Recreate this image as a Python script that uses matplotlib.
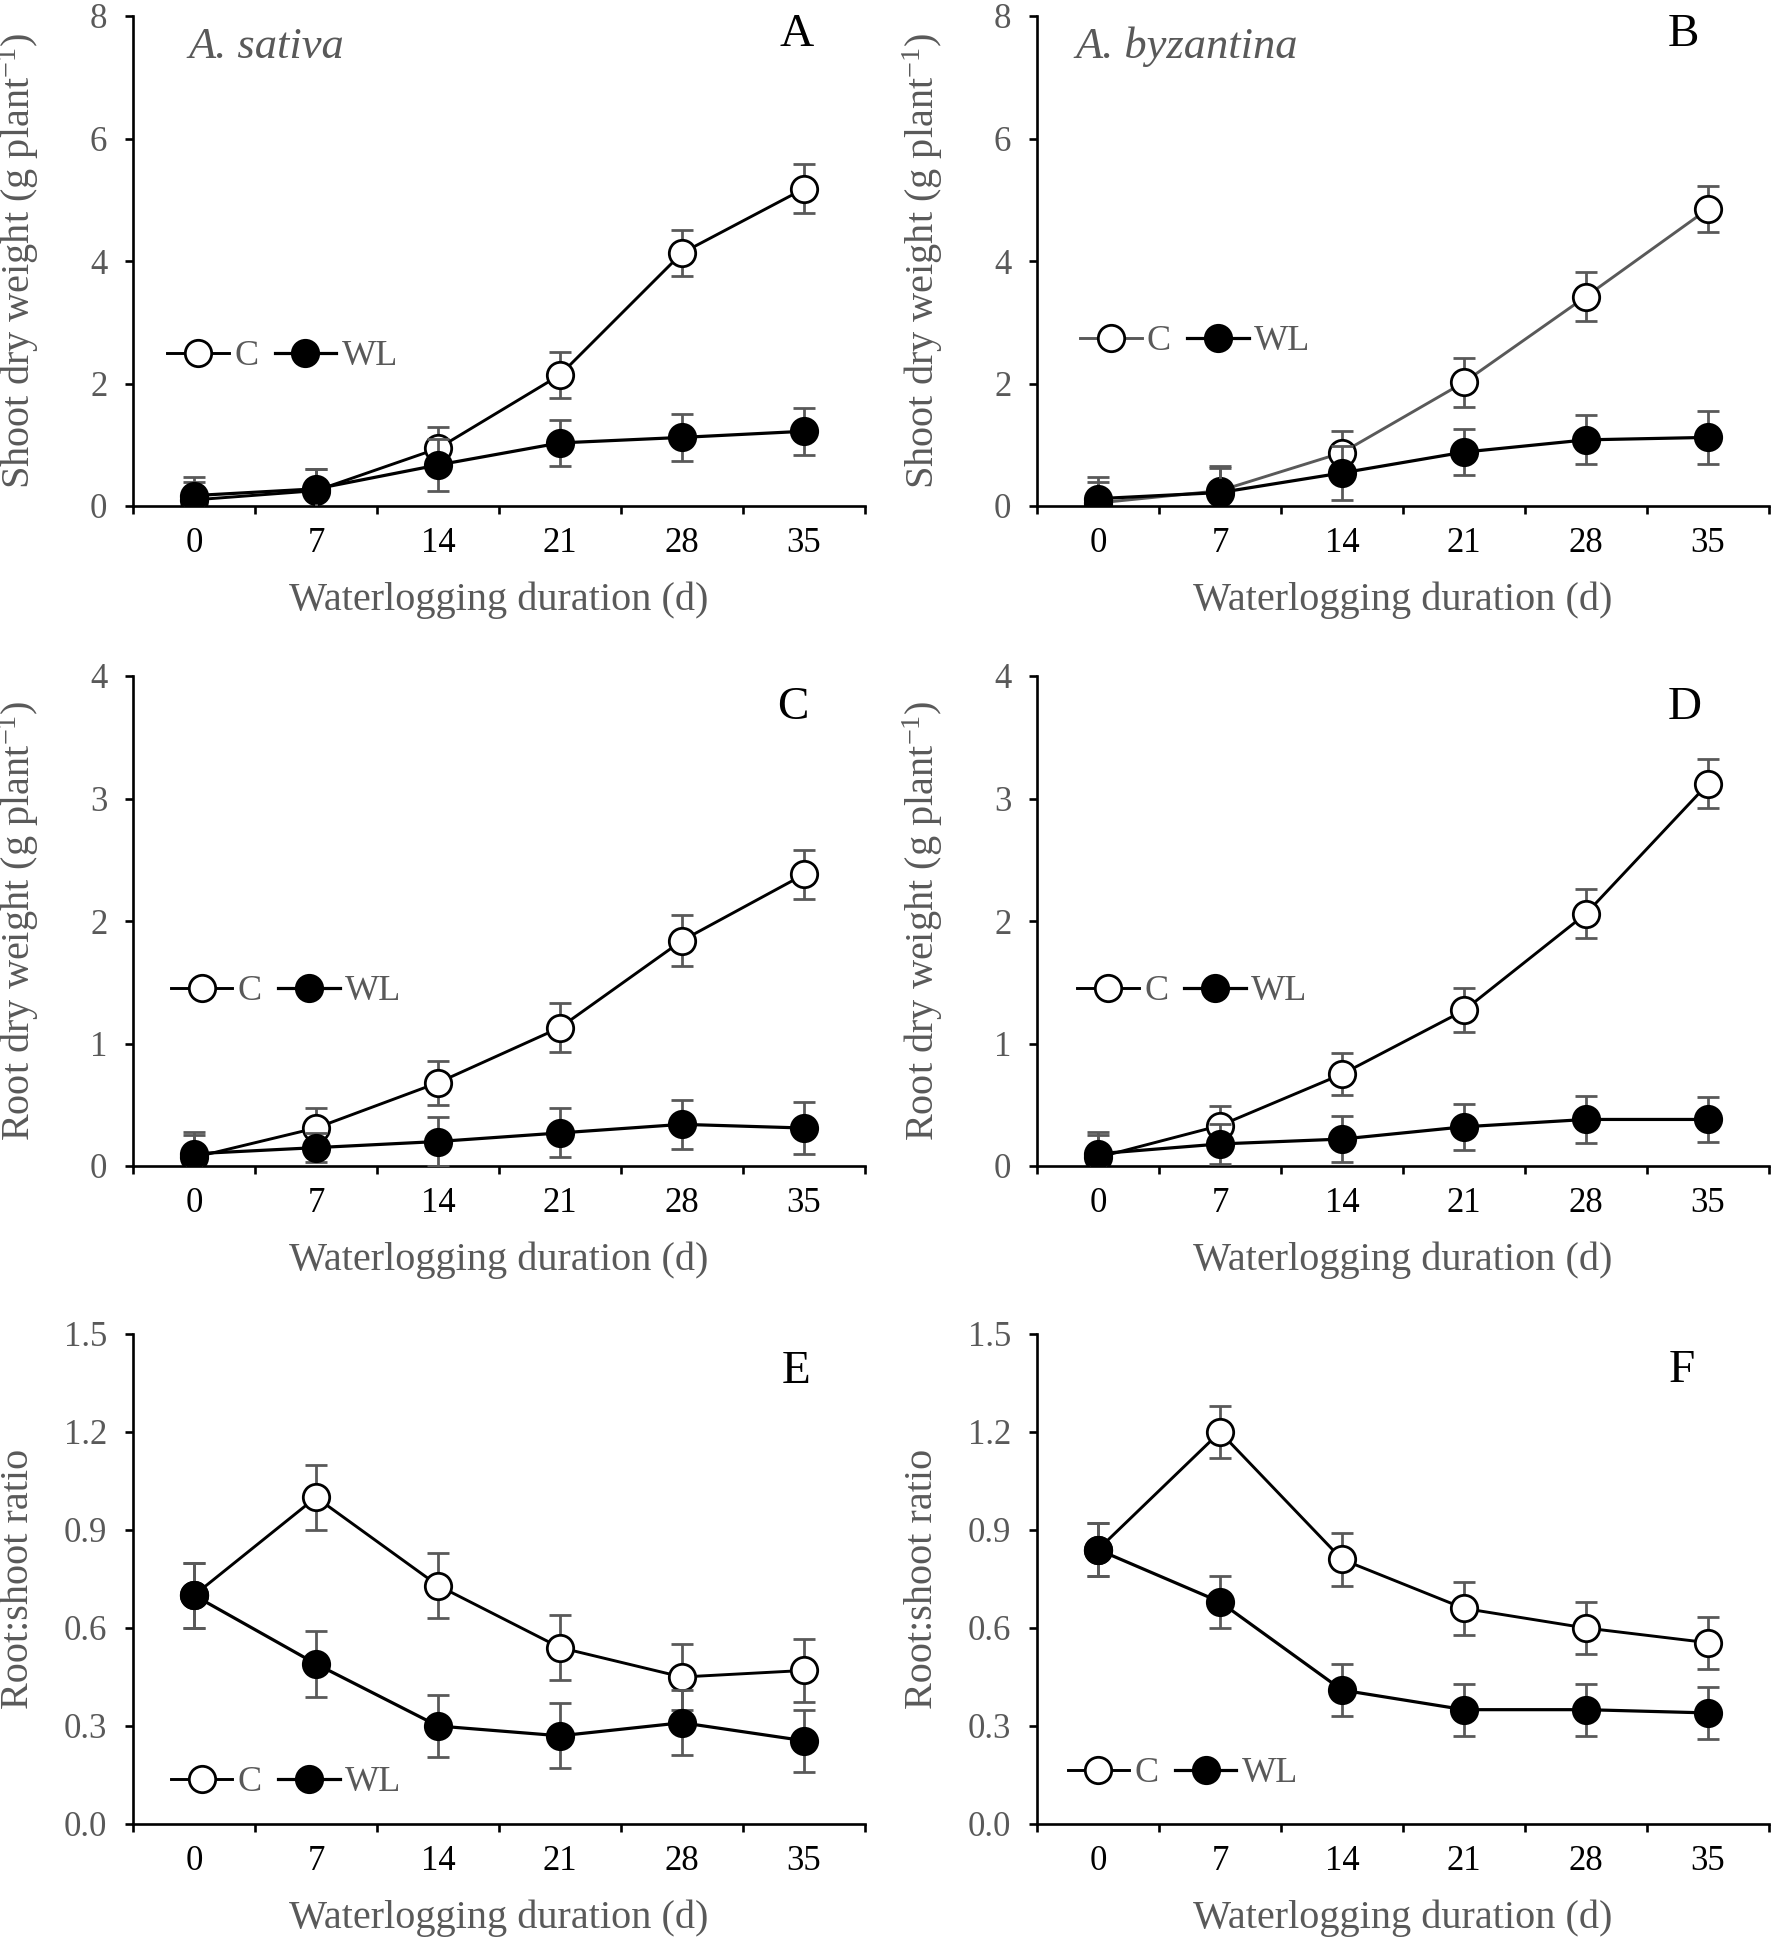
import matplotlib
matplotlib.use("Agg")
import matplotlib.pyplot as plt
from matplotlib.ticker import FixedLocator, FormatStrFormatter

plt.rcParams['font.family'] = ['Liberation Serif', 'DejaVu Serif']
plt.rcParams['mathtext.fontset'] = 'custom'
plt.rcParams['mathtext.rm'] = 'Liberation Serif'
plt.rcParams['mathtext.it'] = 'Liberation Serif:italic'

GREY = '#595959'

days = [0, 7, 14, 21, 28, 35]

# panel A - A. sativa shoot dry weight
a_c = [0.10, 0.25, 0.94, 2.14, 4.13, 5.18]
a_c_err = [0.30, 0.35, 0.35, 0.38, 0.38, 0.40]
a_wl = [0.17, 0.28, 0.67, 1.03, 1.12, 1.22]
a_wl_err = [0.30, 0.33, 0.43, 0.38, 0.38, 0.38]

# panel B - A. byzantina shoot dry weight
b_c = [0.05, 0.25, 0.87, 2.02, 3.42, 4.85]
b_c_err = [0.35, 0.40, 0.36, 0.40, 0.40, 0.38]
b_wl = [0.12, 0.22, 0.54, 0.88, 1.08, 1.12]
b_wl_err = [0.35, 0.40, 0.44, 0.38, 0.40, 0.43]

# panel C - A. sativa root dry weight
c_c = [0.07, 0.31, 0.68, 1.13, 1.84, 2.38]
c_c_err = [0.18, 0.16, 0.18, 0.20, 0.21, 0.20]
c_wl = [0.10, 0.15, 0.20, 0.27, 0.34, 0.31]
c_wl_err = [0.18, 0.12, 0.20, 0.20, 0.20, 0.21]

# panel D - A. byzantina root dry weight
d_c = [0.07, 0.33, 0.75, 1.27, 2.06, 3.12]
d_c_err = [0.18, 0.16, 0.17, 0.18, 0.20, 0.20]
d_wl = [0.10, 0.18, 0.22, 0.32, 0.38, 0.38]
d_wl_err = [0.18, 0.16, 0.19, 0.19, 0.19, 0.18]

# panel E - A. sativa root:shoot
e_c = [0.70, 1.00, 0.73, 0.54, 0.45, 0.47]
e_c_err = [0.10, 0.10, 0.10, 0.10, 0.10, 0.095]
e_wl = [0.70, 0.49, 0.30, 0.27, 0.31, 0.255]
e_wl_err = [0.10, 0.10, 0.095, 0.10, 0.10, 0.095]

# panel F - A. byzantina root:shoot
f_c = [0.84, 1.20, 0.81, 0.66, 0.60, 0.555]
f_c_err = [0.08, 0.08, 0.08, 0.08, 0.08, 0.08]
f_wl = [0.84, 0.68, 0.41, 0.35, 0.35, 0.34]
f_wl_err = [0.08, 0.08, 0.08, 0.08, 0.08, 0.08]

panels = [
    ('A', a_c, a_c_err, a_wl, a_wl_err, (0, 8), [0, 2, 4, 6, 8], '%d',
     'Shoot dry weight (g plant$^{-1}$)', 'A. sativa', (0.047, 0.305), 0.907, 0.962, 'k'),
    ('B', b_c, b_c_err, b_wl, b_wl_err, (0, 8), [0, 2, 4, 6, 8], '%d',
     'Shoot dry weight (g plant$^{-1}$)', 'A. byzantina', (0.059, 0.335), 0.883, 0.962, GREY),
    ('C', c_c, c_c_err, c_wl, c_wl_err, (0, 4), [0, 1, 2, 3, 4], '%d',
     'Root dry weight (g plant$^{-1}$)', None, (0.052, 0.356), 0.902, 0.935, 'k'),
    ('D', d_c, d_c_err, d_wl, d_wl_err, (0, 4), [0, 1, 2, 3, 4], '%d',
     'Root dry weight (g plant$^{-1}$)', None, (0.055, 0.356), 0.885, 0.935, 'k'),
    ('E', e_c, e_c_err, e_wl, e_wl_err, (0, 1.5), [0, 0.3, 0.6, 0.9, 1.2, 1.5], '%.1f',
     'Root:shoot ratio', None, (0.052, 0.084), 0.906, 0.922, 'k'),
    ('F', f_c, f_c_err, f_wl, f_wl_err, (0, 1.5), [0, 0.3, 0.6, 0.9, 1.2, 1.5], '%.1f',
     'Root:shoot ratio', None, (0.042, 0.103), 0.881, 0.925, 'k'),
]

fig = plt.figure(figsize=(17.72, 19.38), dpi=100)

lefts = [133 / 1772, 1037 / 1772]
bottoms = [1 - 506 / 1938, 1 - 1166 / 1938, 1 - 1824 / 1938]
w = 732 / 1772
h = 490 / 1938

for i, p in enumerate(panels):
    (letter, yc, yce, yw, ywe, ylim, yticks, fmt,
     ylab, species, legpos, lx, ly, ccol) = p
    ax = fig.add_axes([lefts[i % 2], bottoms[i // 2], w, h])

    # control series
    ax.errorbar(days, yc, yerr=yce, fmt='none', ecolor=GREY, elinewidth=2.0,
                capsize=8, capthick=2.0, zorder=2)
    lc, = ax.plot(days, yc, '-o', color=ccol, lw=2.1, marker='o', ms=19,
                  mfc='white', mec='k', mew=2.0, zorder=3)
    # waterlogged series
    ax.errorbar(days, yw, yerr=ywe, fmt='none', ecolor=GREY, elinewidth=2.0,
                capsize=8, capthick=2.0, zorder=4)
    lw_, = ax.plot(days, yw, '-o', color='k', lw=2.3, marker='o', ms=19,
                   mfc='k', mec='k', mew=2.0, zorder=5)

    ax.set_xlim(-3.5, 38.5)
    ax.set_ylim(*ylim)
    ax.set_xticks(days)
    ax.xaxis.set_minor_locator(FixedLocator([-3.5 + 7 * k for k in range(7)]))
    ax.set_yticks(yticks)
    ax.yaxis.set_major_formatter(FormatStrFormatter(fmt))

    for s in ['top', 'right']:
        ax.spines[s].set_visible(False)
    for s in ['left', 'bottom']:
        ax.spines[s].set_linewidth(1.9)
        ax.spines[s].set_color('k')

    ax.tick_params(axis='x', which='major', length=0, pad=15, labelsize=25,
                   labelcolor='k')
    ax.tick_params(axis='x', which='minor', length=6, width=1.9,
                   direction='out', color='k')
    ax.tick_params(axis='y', which='major', length=5.5, width=1.9,
                   direction='out', pad=13, labelsize=25, labelcolor=GREY)

    ax.set_xlabel('Waterlogging duration (d)', fontsize=29, color=GREY)
    ax.xaxis.set_label_coords(0.5, -94 / 490)
    ax.xaxis.label.set_va('center')
    ax.set_ylabel(ylab, fontsize=29, color=GREY)
    ax.yaxis.set_label_coords(-114 / 732, 0.5)
    ax.yaxis.label.set_va('center')

    ax.text(lx, ly, letter, transform=ax.transAxes, fontsize=34,
            ha='center', va='center', color='k')
    if species:
        ax.text(0.052 if letter == 'B' else 0.0755, 0.937, species,
                transform=ax.transAxes, fontsize=32, style='italic',
                ha='left', va='center', color=GREY)

    ax.legend([lc, lw_], ['C', 'WL'], ncol=2, frameon=False,
              loc='center left', bbox_to_anchor=legpos, fontsize=26,
              labelcolor=GREY, handlelength=1.7, handletextpad=0.15,
              columnspacing=0.45, borderpad=0, borderaxespad=0, numpoints=1)

fig.savefig('out.png', dpi=100)
